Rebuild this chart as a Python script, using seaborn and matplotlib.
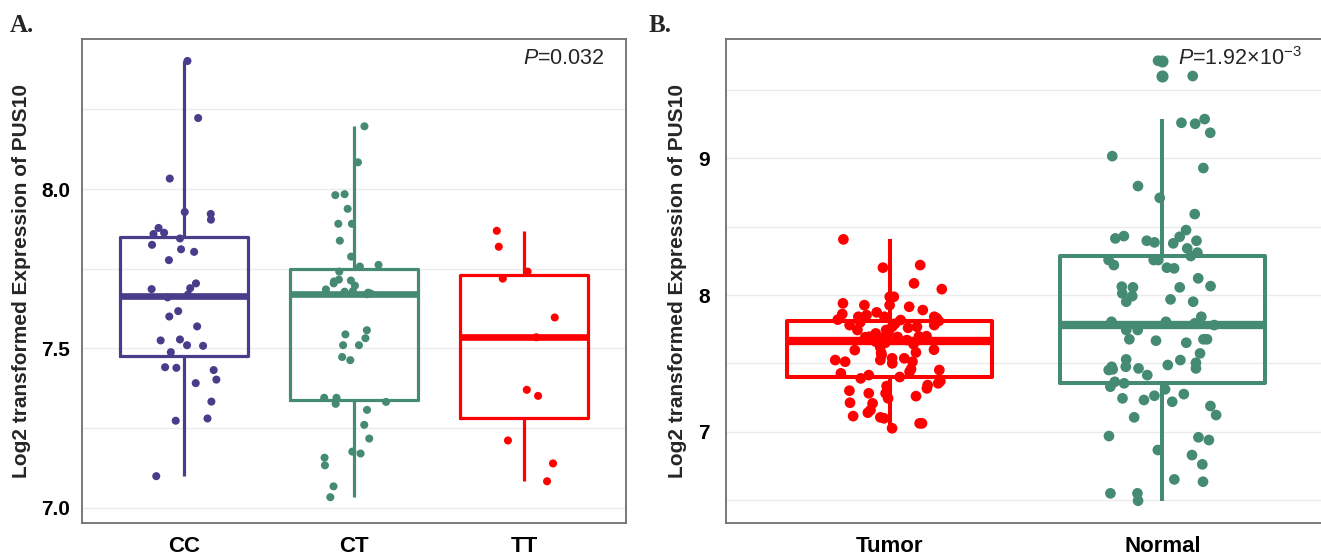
import numpy as np
import pandas as pd
import seaborn as sns
import matplotlib.pyplot as plt
from matplotlib.ticker import MultipleLocator

# panel A: PUS10 expression by genotype
genotypes = ['CC', 'CT', 'TT']
cc_expr = [8.402, 8.223, 8.033, 7.928, 7.922, 7.904, 7.878, 7.863, 7.859, 7.845,
           7.825, 7.811, 7.803, 7.777, 7.704, 7.689, 7.686, 7.669, 7.660, 7.617,
           7.600, 7.569, 7.528, 7.525, 7.510, 7.508, 7.488, 7.441, 7.439, 7.432,
           7.402, 7.391, 7.333, 7.280, 7.273, 7.099]
ct_expr = [8.197, 8.084, 7.984, 7.981, 7.938, 7.891, 7.891, 7.838, 7.788, 7.762,
           7.757, 7.741, 7.716, 7.713, 7.710, 7.704, 7.697, 7.685, 7.680, 7.678,
           7.675, 7.672, 7.670, 7.557, 7.544, 7.532, 7.510, 7.510, 7.473, 7.463,
           7.345, 7.345, 7.332, 7.326, 7.307, 7.260, 7.217, 7.176, 7.170, 7.157,
           7.133, 7.067, 7.033]
tt_expr = [7.869, 7.819, 7.741, 7.719, 7.597, 7.535, 7.370, 7.351, 7.211, 7.139, 7.083]

# panel B: tumor vs normal tissue
tissues = ['Tumor', 'Normal']
tumor_expr = [8.407, 8.219, 8.200, 8.085, 8.043, 7.987, 7.987, 7.939, 7.926, 7.926,
              7.914, 7.890, 7.873, 7.861, 7.853, 7.841, 7.841, 7.841, 7.830, 7.820,
              7.817, 7.810, 7.800, 7.790, 7.780, 7.780, 7.768, 7.768, 7.760, 7.744,
              7.744, 7.730, 7.719, 7.707, 7.700, 7.699, 7.697, 7.695, 7.693, 7.691,
              7.690, 7.680, 7.670, 7.660, 7.650, 7.640, 7.620, 7.600, 7.597, 7.580,
              7.578, 7.561, 7.537, 7.537, 7.524, 7.524, 7.512, 7.512, 7.500, 7.458,
              7.451, 7.439, 7.427, 7.414, 7.400, 7.390, 7.370, 7.354, 7.341, 7.334,
              7.317, 7.300, 7.281, 7.281, 7.260, 7.244, 7.212, 7.207, 7.158, 7.139,
              7.114, 7.105, 7.098, 7.061, 7.061, 7.025]
normal_expr = [9.714, 9.602, 9.287, 9.260, 9.253, 9.187, 9.016, 8.929, 8.797, 8.711,
               8.592, 8.475, 8.431, 8.426, 8.414, 8.397, 8.397, 8.385, 8.378, 8.341,
               8.310, 8.285, 8.256, 8.256, 8.256, 8.219, 8.200, 8.195, 8.122, 8.065,
               8.061, 8.056, 8.056, 8.012, 7.992, 7.968, 7.951, 7.951, 7.841, 7.804,
               7.804, 7.793, 7.780, 7.744, 7.744, 7.676, 7.676, 7.676, 7.666, 7.651,
               7.573, 7.529, 7.524, 7.504, 7.488, 7.475, 7.475, 7.463, 7.463, 7.456,
               7.451, 7.414, 7.365, 7.354, 7.329, 7.310, 7.275, 7.263, 7.244, 7.232,
               7.219, 7.188, 7.122, 7.105, 6.968, 6.959, 6.939, 6.866, 6.829, 6.761,
               6.651, 6.634, 6.549, 6.549, 6.495]

colors_a = {'CC': '#483D8B', 'CT': '#458B74', 'TT': '#FF0000'}
colors_b = {'Tumor': '#FF0000', 'Normal': '#458B74'}
whis_a = {'CC': 1.5, 'CT': 1.5, 'TT': 1.5}
whis_b = {'Tumor': 1.5, 'Normal': 1.25}

df_a = pd.DataFrame({
    'group': ['CC'] * len(cc_expr) + ['CT'] * len(ct_expr) + ['TT'] * len(tt_expr),
    'expr': cc_expr + ct_expr + tt_expr,
})
df_b = pd.DataFrame({
    'group': ['Tumor'] * len(tumor_expr) + ['Normal'] * len(normal_expr),
    'expr': tumor_expr + normal_expr,
})

sns.set_theme(style='white')
plt.rcParams['font.family'] = ['Liberation Sans', 'DejaVu Sans']
plt.rcParams['mathtext.fontset'] = 'custom'
plt.rcParams['mathtext.rm'] = 'Liberation Sans'
plt.rcParams['mathtext.it'] = 'Liberation Sans:italic'

fig = plt.figure(figsize=(13.21, 5.56), dpi=100)
ax_a = fig.add_axes([82 / 1321, 33 / 556, 544 / 1321, 484 / 556])
ax_b = fig.add_axes([726 / 1321, 33 / 556, 600 / 1321, 484 / 556])


def draw_panel(ax, df, order, colors, whis, lw, med_lw, pt_size, seed):
    for g in order:
        sub = df[df['group'] == g]
        sns.boxplot(data=sub, x='group', y='expr', order=order, color=colors[g],
                    fill=False, saturation=1, width=0.75, whis=whis[g],
                    showcaps=False, linewidth=lw,
                    medianprops={'linewidth': med_lw},
                    flierprops={'marker': 'o', 'markersize': pt_size,
                                'markerfacecolor': colors[g],
                                'markeredgecolor': colors[g]},
                    ax=ax)
    np.random.seed(seed)
    sns.stripplot(data=df, x='group', y='expr', order=order, hue='group',
                  palette=colors, jitter=0.2, size=pt_size, linewidth=0,
                  legend=False, zorder=3, ax=ax)


draw_panel(ax_a, df_a, genotypes, colors_a, whis_a, 2.3, 4.8, 5.8, 3)
draw_panel(ax_b, df_b, tissues, colors_b, whis_b, 2.9, 6.0, 7.7, 7)

ax_a.set_xlim(-0.6, 2.6)
ax_a.set_ylim(6.952, 8.471)
ax_a.set_yticks([7.0, 7.5, 8.0])
ax_a.set_yticklabels(['7.0', '7.5', '8.0'])
ax_a.yaxis.set_minor_locator(MultipleLocator(0.25))

ax_b.set_xlim(-0.6, 1.6)
ax_b.set_ylim(6.332, 9.873)
ax_b.set_yticks([7, 8, 9])
ax_b.set_yticklabels(['7', '8', '9'])
ax_b.yaxis.set_minor_locator(MultipleLocator(0.5))

for ax, ypad, lab_x in [(ax_a, 4.5, -0.094), (ax_b, 7.5, -0.065)]:
    ax.set_xlabel('')
    ax.set_ylabel('Log2 transformed Expression of PUS10', fontsize=15, fontweight='bold')
    ax.yaxis.set_label_coords(lab_x, 0.5)
    ax.grid(axis='y', which='both', color='#EBEBEB', linewidth=1.0)
    ax.set_axisbelow(True)
    for sp in ax.spines.values():
        sp.set_color('#6E6E6E')
        sp.set_linewidth(1.3)
    ax.tick_params(axis='x', which='major', length=4, width=1, color='#6E6E6E',
                   pad=5, labelsize=16)
    ax.tick_params(axis='y', which='major', length=4, width=1, color='#6E6E6E',
                   pad=ypad, labelsize=15)
    ax.tick_params(which='minor', length=0)
    for t in ax.get_xticklabels() + ax.get_yticklabels():
        t.set_fontweight('bold')
        t.set_color('black')

ax_a.text(0.96, 0.9595, '$\\mathit{P}$=0.032', transform=ax_a.transAxes,
          ha='right', va='center', fontsize=15.5)
ax_b.text(0.753, 0.9595, '$\\mathit{P}$=1.92×10$^{-3}$', transform=ax_b.transAxes,
          ha='left', va='center', fontsize=15.5)

fig.text(10 / 1321, 1 - 25 / 556, 'A.', fontfamily='Liberation Serif',
         fontweight='bold', fontsize=18, va='center')
fig.text(649 / 1321, 1 - 25 / 556, 'B.', fontfamily='Liberation Serif',
         fontweight='bold', fontsize=18, va='center')

fig.savefig('out.png', dpi=100)
plt.close(fig)
